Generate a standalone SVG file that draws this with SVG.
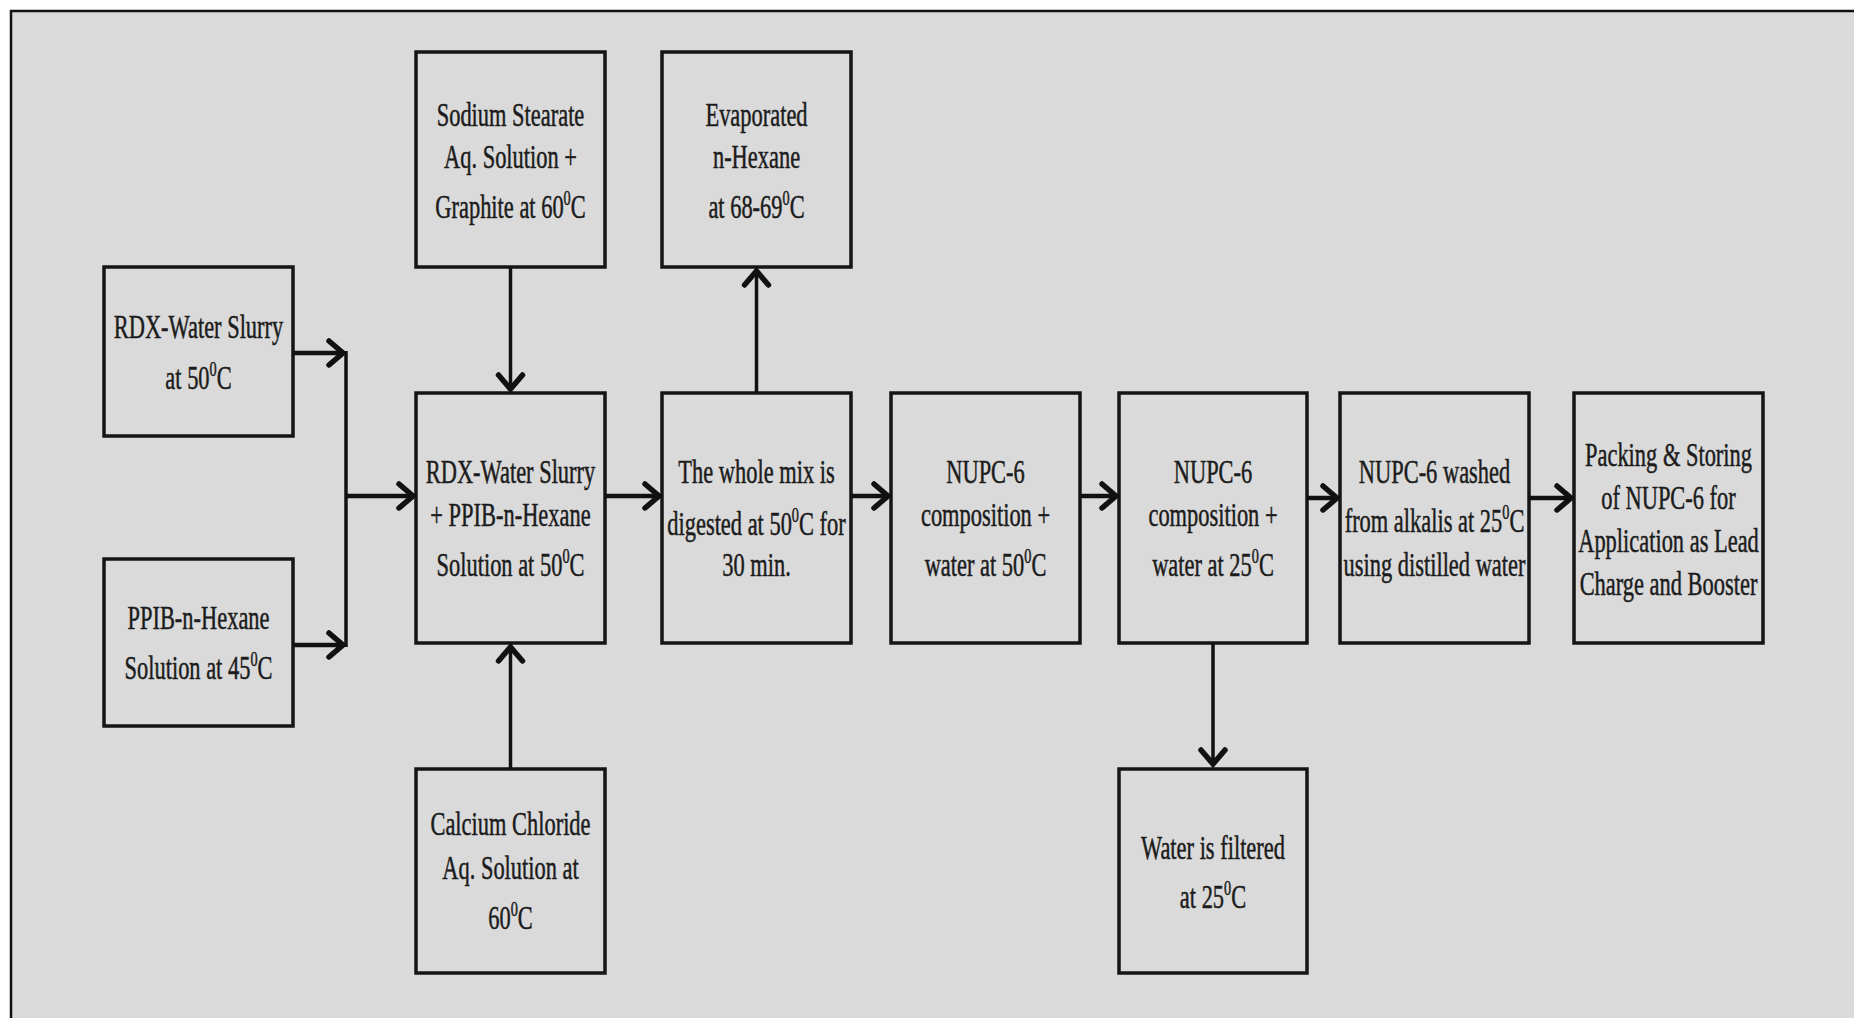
<svg xmlns="http://www.w3.org/2000/svg" width="1854" height="1018" viewBox="0 0 1854 1018">
<style>
.box{fill:none;stroke:#151515;stroke-width:3.5}
.t{font-family:"Liberation Serif","Times New Roman","DejaVu Serif",serif;font-size:33px;fill:#1c1c1c;stroke:#1c1c1c;stroke-width:0.5;text-anchor:middle}
.sup{font-size:21px}
.c{fill:none;stroke:#111;stroke-width:4.5}
.cv{fill:none;stroke:#111;stroke-width:3.5}
</style>
<defs>
<marker id="ah" markerUnits="userSpaceOnUse" markerWidth="40" markerHeight="40" viewBox="-20 -20 40 40" refX="0" refY="0" orient="auto">
<path d="M-15,-12 L-1,0 L-15,12" fill="none" stroke="#111" stroke-width="5.5" stroke-linecap="round" stroke-linejoin="miter"/>
</marker>
</defs>
<rect x="0" y="0" width="1854" height="1018" fill="#ffffff"/>
<rect x="11" y="11" width="1843" height="1007" fill="#dadada"/>
<path d="M11,1018 L11,11 L1854,11" fill="none" stroke="#111" stroke-width="2.5"/>

<g id="n-rdx"><rect class="box" x="104" y="267" width="189" height="169"/>
<text class="t" transform="translate(198.5,0) scale(0.68,1)"><tspan x="0" y="338">RDX-Water Slurry</tspan><tspan x="0" y="389">at 50<tspan class="sup" dy="-13">0</tspan><tspan dy="13">C</tspan></tspan></text></g>

<g id="n-ppib"><rect class="box" x="104" y="559" width="189" height="167"/>
<text class="t" transform="translate(198.5,0) scale(0.68,1)"><tspan x="0" y="629">PPIB-n-Hexane</tspan><tspan x="0" y="679">Solution at 45<tspan class="sup" dy="-13">0</tspan><tspan dy="13">C</tspan></tspan></text></g>

<g id="n-sodium"><rect class="box" x="416" y="52" width="189" height="215"/>
<text class="t" transform="translate(510.5,0) scale(0.68,1)"><tspan x="0" y="126">Sodium Stearate</tspan><tspan x="0" y="168">Aq. Solution +</tspan><tspan x="0" y="218">Graphite at 60<tspan class="sup" dy="-13">0</tspan><tspan dy="13">C</tspan></tspan></text></g>

<g id="n-evap"><rect class="box" x="662" y="52" width="189" height="215"/>
<text class="t" transform="translate(756.5,0) scale(0.68,1)"><tspan x="0" y="126">Evaporated</tspan><tspan x="0" y="168">n-Hexane</tspan><tspan x="0" y="218">at 68-69<tspan class="sup" dy="-13">0</tspan><tspan dy="13">C</tspan></tspan></text></g>

<g id="n-center"><rect class="box" x="416" y="393" width="189" height="250"/>
<text class="t" transform="translate(510.5,0) scale(0.68,1)"><tspan x="0" y="483">RDX-Water Slurry</tspan><tspan x="0" y="526">+ PPIB-n-Hexane</tspan><tspan x="0" y="576">Solution at 50<tspan class="sup" dy="-13">0</tspan><tspan dy="13">C</tspan></tspan></text></g>

<g id="n-mix"><rect class="box" x="662" y="393" width="189" height="250"/>
<text class="t" transform="translate(756.5,0) scale(0.68,1)"><tspan x="0" y="483">The whole mix is</tspan><tspan x="0" y="535">digested at 50<tspan class="sup" dy="-13">0</tspan><tspan dy="13">C for</tspan></tspan><tspan x="0" y="576">30 min.</tspan></text></g>

<g id="n-nupc50"><rect class="box" x="891" y="393" width="189" height="250"/>
<text class="t" transform="translate(985.5,0) scale(0.68,1)"><tspan x="0" y="483">NUPC-6</tspan><tspan x="0" y="526">composition +</tspan><tspan x="0" y="576">water at 50<tspan class="sup" dy="-13">0</tspan><tspan dy="13">C</tspan></tspan></text></g>

<g id="n-nupc25"><rect class="box" x="1119" y="393" width="188" height="250"/>
<text class="t" transform="translate(1213,0) scale(0.68,1)"><tspan x="0" y="483">NUPC-6</tspan><tspan x="0" y="526">composition +</tspan><tspan x="0" y="576">water at 25<tspan class="sup" dy="-13">0</tspan><tspan dy="13">C</tspan></tspan></text></g>

<g id="n-washed"><rect class="box" x="1340" y="393" width="189" height="250"/>
<text class="t" transform="translate(1434.5,0) scale(0.68,1)"><tspan x="0" y="483">NUPC-6 washed</tspan><tspan x="0" y="532">from alkalis at 25<tspan class="sup" dy="-13">0</tspan><tspan dy="13">C</tspan></tspan><tspan x="0" y="576">using distilled water</tspan></text></g>

<g id="n-packing"><rect class="box" x="1574" y="393" width="189" height="250"/>
<text class="t" transform="translate(1668.5,0) scale(0.68,1)"><tspan x="0" y="466">Packing &amp; Storing</tspan><tspan x="0" y="509">of NUPC-6 for</tspan><tspan x="0" y="552">Application as Lead</tspan><tspan x="0" y="595">Charge and Booster</tspan></text></g>

<g id="n-calcium"><rect class="box" x="416" y="769" width="189" height="204"/>
<text class="t" transform="translate(510.5,0) scale(0.68,1)"><tspan x="0" y="835">Calcium Chloride</tspan><tspan x="0" y="879">Aq. Solution at</tspan><tspan x="0" y="929">60<tspan class="sup" dy="-13">0</tspan><tspan dy="13">C</tspan></tspan></text></g>

<g id="n-water"><rect class="box" x="1119" y="769" width="188" height="204"/>
<text class="t" transform="translate(1213,0) scale(0.68,1)"><tspan x="0" y="859">Water is filtered</tspan><tspan x="0" y="908">at 25<tspan class="sup" dy="-13">0</tspan><tspan dy="13">C</tspan></tspan></text></g>

<g id="connectors">
<line class="c" x1="293" y1="353" x2="344" y2="353" marker-end="url(#ah)"/>
<line class="c" x1="293" y1="645" x2="344" y2="645" marker-end="url(#ah)"/>
<line class="cv" x1="346" y1="351" x2="346" y2="647"/>
<line class="c" x1="346" y1="496" x2="414" y2="496" marker-end="url(#ah)"/>
<line class="cv" x1="510.5" y1="267" x2="510.5" y2="390" marker-end="url(#ah)"/>
<line class="cv" x1="510.5" y1="769" x2="510.5" y2="646" marker-end="url(#ah)"/>
<line class="c" x1="605" y1="496" x2="660" y2="496" marker-end="url(#ah)"/>
<line class="cv" x1="756.5" y1="393" x2="756.5" y2="270" marker-end="url(#ah)"/>
<line class="c" x1="851" y1="496" x2="889" y2="496" marker-end="url(#ah)"/>
<line class="c" x1="1080" y1="496" x2="1117" y2="496" marker-end="url(#ah)"/>
<line class="c" x1="1307" y1="498" x2="1338" y2="498" marker-end="url(#ah)"/>
<line class="c" x1="1529" y1="498" x2="1572" y2="498" marker-end="url(#ah)"/>
<line class="cv" x1="1213" y1="643" x2="1213" y2="765" marker-end="url(#ah)"/>
</g>
</svg>
